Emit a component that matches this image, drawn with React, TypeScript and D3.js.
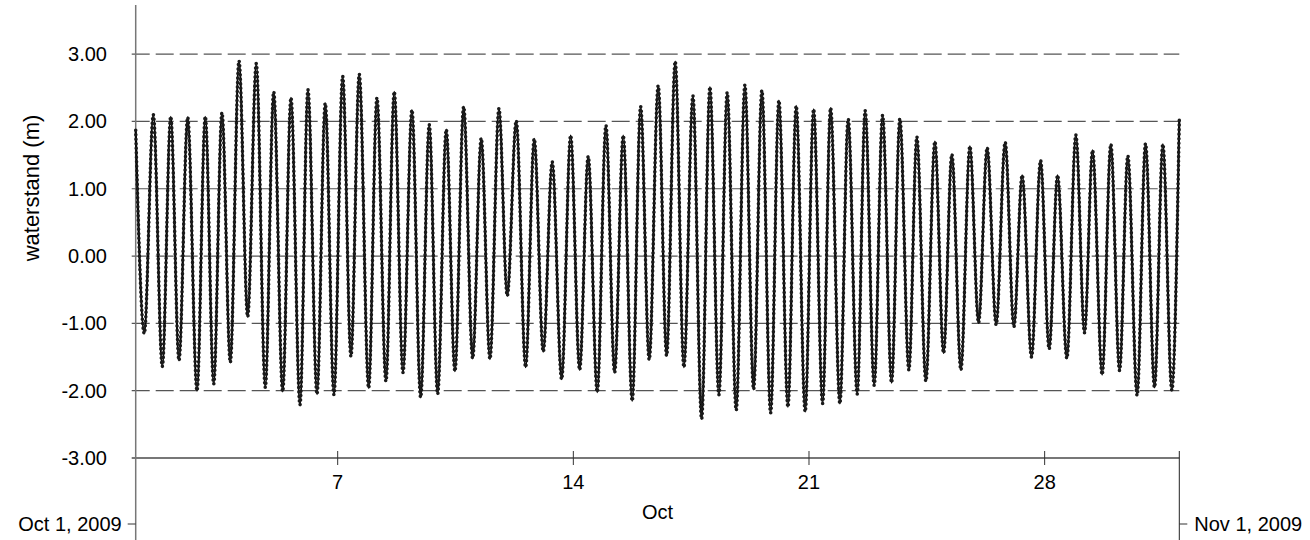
import React from "react";
import * as d3 from "d3";

// Tide extrema (decimal days since Oct 1, 2009 00:00 UTC) and water levels (m)
const tideDays = [
  0.0, 0.255, 0.523, 0.79, 1.04, 1.286, 1.544, 1.821, 2.067, 2.317, 2.563, 2.81,
  3.068, 3.326, 3.582, 3.849, 4.099, 4.366, 4.612, 4.88, 5.117, 5.385, 5.631, 5.889,
  6.148, 6.394, 6.641, 6.92, 7.167, 7.434, 7.68, 7.939, 8.206, 8.464, 8.72, 8.969,
  9.225, 9.483, 9.742, 10.009, 10.264, 10.523, 10.79, 11.037, 11.304, 11.583, 11.838, 12.106,
  12.373, 12.652, 12.92, 13.187, 13.442, 13.71, 13.968, 14.226, 14.482, 14.749, 14.999, 15.254,
  15.521, 15.771, 16.026, 16.284, 16.552, 16.81, 17.057, 17.324, 17.571, 17.838, 18.096, 18.355,
  18.601, 18.86, 19.106, 19.374, 19.62, 19.887, 20.137, 20.404, 20.642, 20.918, 21.164, 21.432,
  21.669, 21.937, 22.186, 22.453, 22.7, 22.967, 23.204, 23.472, 23.739, 23.998, 24.244, 24.512,
  24.779, 25.037, 25.293, 25.56, 25.827, 26.086, 26.332, 26.611, 26.879, 27.134, 27.384, 27.66,
  27.927, 28.185, 28.423, 28.708, 28.966, 29.225, 29.471, 29.747, 29.997, 30.264, 30.511, 30.778,
  31.0,
];
const tideLevels = [
  1.87, -1.15, 2.1, -1.64, 2.07, -1.55, 2.06, -2.0, 2.07, -1.9, 2.13, -1.58,
  2.9, -0.9, 2.86, -1.95, 2.44, -2.01, 2.35, -2.21, 2.47, -2.05, 2.27, -2.06,
  2.67, -1.49, 2.7, -1.96, 2.35, -1.86, 2.44, -1.73, 2.17, -2.1, 1.95, -2.05,
  1.88, -1.71, 2.22, -1.52, 1.75, -1.53, 2.19, -0.59, 2.01, -1.65, 1.74, -1.42,
  1.4, -1.83, 1.79, -1.69, 1.48, -2.02, 1.94, -1.73, 1.79, -2.15, 2.22, -1.54,
  2.53, -1.48, 2.89, -1.65, 2.38, -2.42, 2.51, -2.06, 2.43, -2.29, 2.54, -1.98,
  2.46, -2.33, 2.31, -2.24, 2.23, -2.31, 2.18, -2.19, 2.2, -2.19, 2.04, -2.05,
  2.16, -1.92, 2.09, -1.88, 2.04, -1.69, 1.77, -1.86, 1.7, -1.44, 1.51, -1.69,
  1.63, -0.99, 1.61, -1.02, 1.69, -1.05, 1.2, -1.5, 1.42, -1.38, 1.2, -1.52,
  1.8, -1.14, 1.57, -1.76, 1.66, -1.7, 1.49, -2.07, 1.67, -1.95, 1.66, -1.99,
  2.04,
];

const yTickValues = [-3, -2, -1, 0, 1, 2, 3];
const xTickDates = [7, 14, 21, 28]; // days of October
const startLabel = "Oct 1, 2009";
const endLabel = "Nov 1, 2009";
const monthLabel = "Oct";
const yTitle = "waterstand (m)";

const W = 1310;
const H = 540;
const FONT = "'Liberation Sans', Arial, sans-serif";

export default function App() {
  const start = new Date(Date.UTC(2009, 9, 1));
  const end = new Date(Date.UTC(2009, 10, 1));
  const x = d3.scaleUtc().domain([start, end]).range([135.7, 1179.3]);
  const y = d3.scaleLinear().domain([-3, 3.73]).range([458, 5]);

  const toDate = (d: number) => new Date(start.getTime() + d * 86400000);
  const pts: [Date, number][] = tideDays.map((d, i) => [toDate(d), tideLevels[i]]);
  const line = d3
    .line<[Date, number]>()
    .x((p) => x(p[0]))
    .y((p) => y(p[1]))
    .curve(d3.curveMonotoneX);
  const pathD = line(pts) || "";

  const x0 = x(start);
  const x1 = x(end);
  const yBottom = y(-3);
  const dateTickY = 524;
  const fmt = (v: number) => d3.format(".2f")(v).replace("\u2212", "-");

  return (
    <svg
      width={W}
      height={H}
      style={{ position: "absolute", left: 0, top: 0, background: "#fff" }}
      fontFamily={FONT}
    >
      {/* gridlines */}
      {yTickValues
        .filter((v) => v !== -3)
        .map((v) => (
          <line
            key={"g" + v}
            x1={x0 - 4}
            x2={x1}
            y1={y(v)}
            y2={y(v)}
            stroke="#555"
            strokeWidth={1.2}
            strokeDasharray="18,6"
          />
        ))}
      {/* x axis (at -3) */}
      <line x1={x0 - 4} x2={x1} y1={yBottom} y2={yBottom} stroke="#777" strokeWidth={1.8} />
      {/* y axis */}
      <line x1={x0} x2={x0} y1={y(3.73)} y2={H} stroke="#777" strokeWidth={1.5} />
      {/* right end line */}
      <line x1={x1} x2={x1} y1={yBottom - 7} y2={H} stroke="#222" strokeWidth={1} />
      {/* y tick labels */}
      {yTickValues.map((v) => (
        <text
          key={"yl" + v}
          x={107}
          y={y(v)}
          dy="0.35em"
          textAnchor="end"
          fontSize={20}
          fill="#000"
        >
          {fmt(v)}
        </text>
      ))}
      {/* x ticks */}
      {xTickDates.map((d) => {
        const xx = x(new Date(Date.UTC(2009, 9, d)));
        return (
          <g key={"xt" + d}>
            <line x1={xx} x2={xx} y1={yBottom - 7} y2={yBottom + 7} stroke="#333" strokeWidth={1} />
            <text x={xx} y={489} textAnchor="middle" fontSize={20} fill="#000">
              {d}
            </text>
          </g>
        );
      })}
      <text x={(x0 + x1) / 2} y={519} textAnchor="middle" fontSize={20} fill="#000">
        {monthLabel}
      </text>
      {/* date end labels */}
      <line x1={x0 - 8} x2={x0} y1={dateTickY} y2={dateTickY} stroke="#333" strokeWidth={1} />
      <text x={x0 - 14} y={dateTickY} dy="0.35em" textAnchor="end" fontSize={20} fill="#000">
        {startLabel}
      </text>
      <line x1={x1} x2={x1 + 8} y1={dateTickY} y2={dateTickY} stroke="#333" strokeWidth={1} />
      <text x={x1 + 15} y={dateTickY} dy="0.35em" textAnchor="start" fontSize={20} fill="#000">
        {endLabel}
      </text>
      {/* y title */}
      <text
        transform={`translate(31,188) rotate(-90)`}
        dy="0.35em"
        textAnchor="middle"
        fontSize={22}
        fill="#000"
      >
        {yTitle}
      </text>
      {/* data line */}
      <path d={pathD} fill="none" stroke="#000" strokeWidth={2.2} />
      <path
        d={pathD}
        fill="none"
        stroke="#1a1a1a"
        strokeWidth={3.6}
        strokeLinecap="round"
        strokeDasharray="0 4.5"
      />
    </svg>
  );
}
